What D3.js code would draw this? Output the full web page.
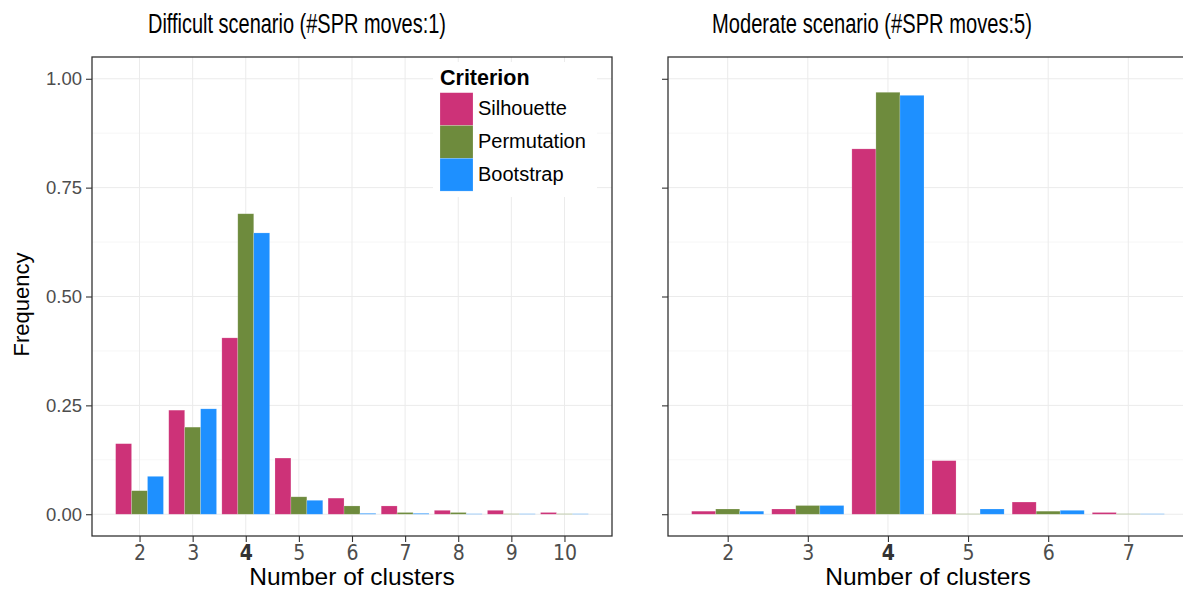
<!DOCTYPE html>
<html>
<head>
<meta charset="utf-8">
<script src="https://cdn.jsdelivr.net/npm/d3@7"></script>
<style>
  html, body { margin: 0; padding: 0; background: #fff; overflow: hidden; }
  svg { display: block; font-family: "Liberation Sans", Arial, sans-serif; }
</style>
</head>
<body>
<svg id="chart" width="1183" height="589"></svg>
<script>
// Cluster counts shown on each panel's x axis
const clustersDifficult = [2, 3, 4, 5, 6, 7, 8, 9, 10];
const clustersModerate = [2, 3, 4, 5, 6, 7];

// Criteria (legend order) and their fill colours
const criteria = ["Silhouette", "Permutation", "Bootstrap"];
const criterionColors = ["#CD3278", "#6E8B3D", "#1E90FF"];

// Frequency of the selected number of clusters, per criterion
const difficultSilhouette  = [0.162, 0.239, 0.405, 0.129, 0.037, 0.019, 0.009, 0.009, 0.004];
const difficultPermutation = [0.054, 0.200, 0.690, 0.040, 0.019, 0.004, 0.004, 0.001, 0.001];
const difficultBootstrap   = [0.087, 0.242, 0.646, 0.032, 0.002, 0.002, 0.001, 0.001, 0.001];

const moderateSilhouette  = [0.007, 0.012, 0.839, 0.123, 0.028, 0.004];
const moderatePermutation = [0.012, 0.020, 0.969, 0.001, 0.007, 0.001];
const moderateBootstrap   = [0.007, 0.020, 0.962, 0.012, 0.009, 0.001];

// Axis ticks
const yTicks = [0, 0.25, 0.5, 0.75, 1];
const yMinorTicks = [0.125, 0.375, 0.625, 0.875];
const trueClusters = 4;

const panelTitles = ["Difficult scenario (#SPR moves:1)", "Moderate scenario (#SPR moves:5)"];

const svg = d3.select("#chart");

const panelTop = 57, panelBottom = 536;
const y = d3.scaleLinear().domain([-0.05, 1.05]).range([panelBottom, panelTop]);

const dodge = 0.9, barW = dodge / criteria.length;

const panels = [
  {
    title: panelTitles[0], clusters: clustersDifficult,
    series: [difficultSilhouette, difficultPermutation, difficultBootstrap],
    x0: 92, x1: 612, titleX: 297, titleLen: 298, yLabels: true
  },
  {
    title: panelTitles[1], clusters: clustersModerate,
    series: [moderateSilhouette, moderatePermutation, moderateBootstrap],
    x0: 668, x1: 1188, titleX: 872, titleLen: 320, yLabels: false
  }
];

panels.forEach(p => {
  const lo = d3.min(p.clusters) - dodge / 2, hi = d3.max(p.clusters) + dodge / 2;
  const pad = (hi - lo) * 0.05;
  const x = d3.scaleLinear().domain([lo - pad, hi + pad]).range([p.x0, p.x1]);

  const g = svg.append("g");

  // panel background
  g.append("rect").attr("x", p.x0).attr("y", panelTop)
    .attr("width", p.x1 - p.x0).attr("height", panelBottom - panelTop).attr("fill", "#fff");

  // grid lines
  g.append("g").selectAll("line").data(yMinorTicks).join("line")
    .attr("x1", p.x0).attr("x2", p.x1)
    .attr("y1", d => y(d)).attr("y2", d => y(d))
    .attr("stroke", "#F4F4F4").attr("stroke-width", 0.8);
  g.append("g").selectAll("line").data(yTicks).join("line")
    .attr("x1", p.x0).attr("x2", p.x1)
    .attr("y1", d => y(d)).attr("y2", d => y(d))
    .attr("stroke", "#EBEBEB").attr("stroke-width", 1);
  g.append("g").selectAll("line").data(p.clusters).join("line")
    .attr("x1", d => x(d)).attr("x2", d => x(d))
    .attr("y1", panelTop).attr("y2", panelBottom)
    .attr("stroke", "#EBEBEB").attr("stroke-width", 1);

  // dodged bars
  p.series.forEach((vals, si) => {
    g.append("g").selectAll("rect").data(vals).join("rect")
      .attr("x", (d, i) => x(p.clusters[i] - dodge / 2 + si * barW))
      .attr("width", (d, i) => x(p.clusters[i] - dodge / 2 + (si + 1) * barW) - x(p.clusters[i] - dodge / 2 + si * barW))
      .attr("y", d => y(d))
      .attr("height", d => y(0) - y(d))
      .attr("fill", criterionColors[si])
      .attr("stroke", "rgba(255,255,255,0.3)")
      .attr("stroke-width", 0.6);
  });

  // panel border
  g.append("rect").attr("x", p.x0).attr("y", panelTop)
    .attr("width", p.x1 - p.x0).attr("height", panelBottom - panelTop)
    .attr("fill", "none").attr("stroke", "#333").attr("stroke-width", 1.3);

  // y axis
  const yAxis = d3.axisLeft(y).tickValues(yTicks).tickSize(6).tickPadding(4)
    .tickFormat(p.yLabels ? d3.format(".2f") : () => "");
  const ya = g.append("g").attr("transform", `translate(${p.x0},0)`).call(yAxis);
  ya.select(".domain").remove();
  ya.selectAll(".tick line").attr("stroke", "#333").attr("stroke-width", 1.1);
  ya.selectAll(".tick text").attr("fill", "#4D4D4D")
    .style("font-size", "18.5px").style("font-family", "Liberation Sans, Arial, sans-serif");

  // x axis
  const xAxis = d3.axisBottom(x).tickValues(p.clusters).tickSize(6).tickPadding(3)
    .tickFormat(d3.format("d"));
  const xa = g.append("g").attr("transform", `translate(0,${panelBottom})`).call(xAxis);
  xa.select(".domain").remove();
  xa.selectAll(".tick line").attr("stroke", "#333").attr("stroke-width", 1.1);
  xa.selectAll(".tick text")
    .attr("fill", d => d === trueClusters ? "#333" : "#4D4D4D")
    .style("font-weight", d => d === trueClusters ? "bold" : "normal")
    .style("font-size", "21px")
    .style("font-family", "'Liberation Sans Narrow', 'DejaVu Sans', sans-serif")
    .style("font-stretch", "condensed");

  // x axis title
  svg.append("text").attr("x", (p.x0 + p.x1) / 2).attr("y", 585)
    .attr("text-anchor", "middle").style("font-size", "24.5px")
    .attr("fill", "#000").text("Number of clusters");

  // panel title
  svg.append("text").attr("x", p.titleX).attr("y", 33)
    .attr("text-anchor", "middle").style("font-size", "27px")
    .attr("textLength", p.titleLen).attr("lengthAdjust", "spacingAndGlyphs")
    .attr("fill", "#000").text(p.title);
});

// y axis title
svg.append("text")
  .attr("transform", `translate(29,${(panelTop + panelBottom) / 2 + 8}) rotate(-90)`)
  .attr("text-anchor", "middle").style("font-size", "22px")
  .attr("fill", "#000").text("Frequency");

// legend
const legend = svg.append("g");
legend.append("rect").attr("x", 433).attr("y", 62).attr("width", 164).attr("height", 135)
  .attr("fill", "#fff");
legend.append("text").attr("x", 440).attr("y", 85)
  .style("font-size", "21.5px").style("font-weight", "bold").attr("fill", "#000")
  .text("Criterion");
const keySize = 32.8;
criteria.forEach((c, i) => {
  legend.append("rect").attr("x", 440).attr("y", 92.7 + i * keySize)
    .attr("width", 33).attr("height", keySize)
    .attr("fill", criterionColors[i])
    .attr("stroke", "rgba(255,255,255,0.3)").attr("stroke-width", 0.6);
  legend.append("text").attr("x", 478).attr("y", 115 + i * keySize)
    .style("font-size", "20px").attr("fill", "#000").text(c);
});
</script>
</body>
</html>
